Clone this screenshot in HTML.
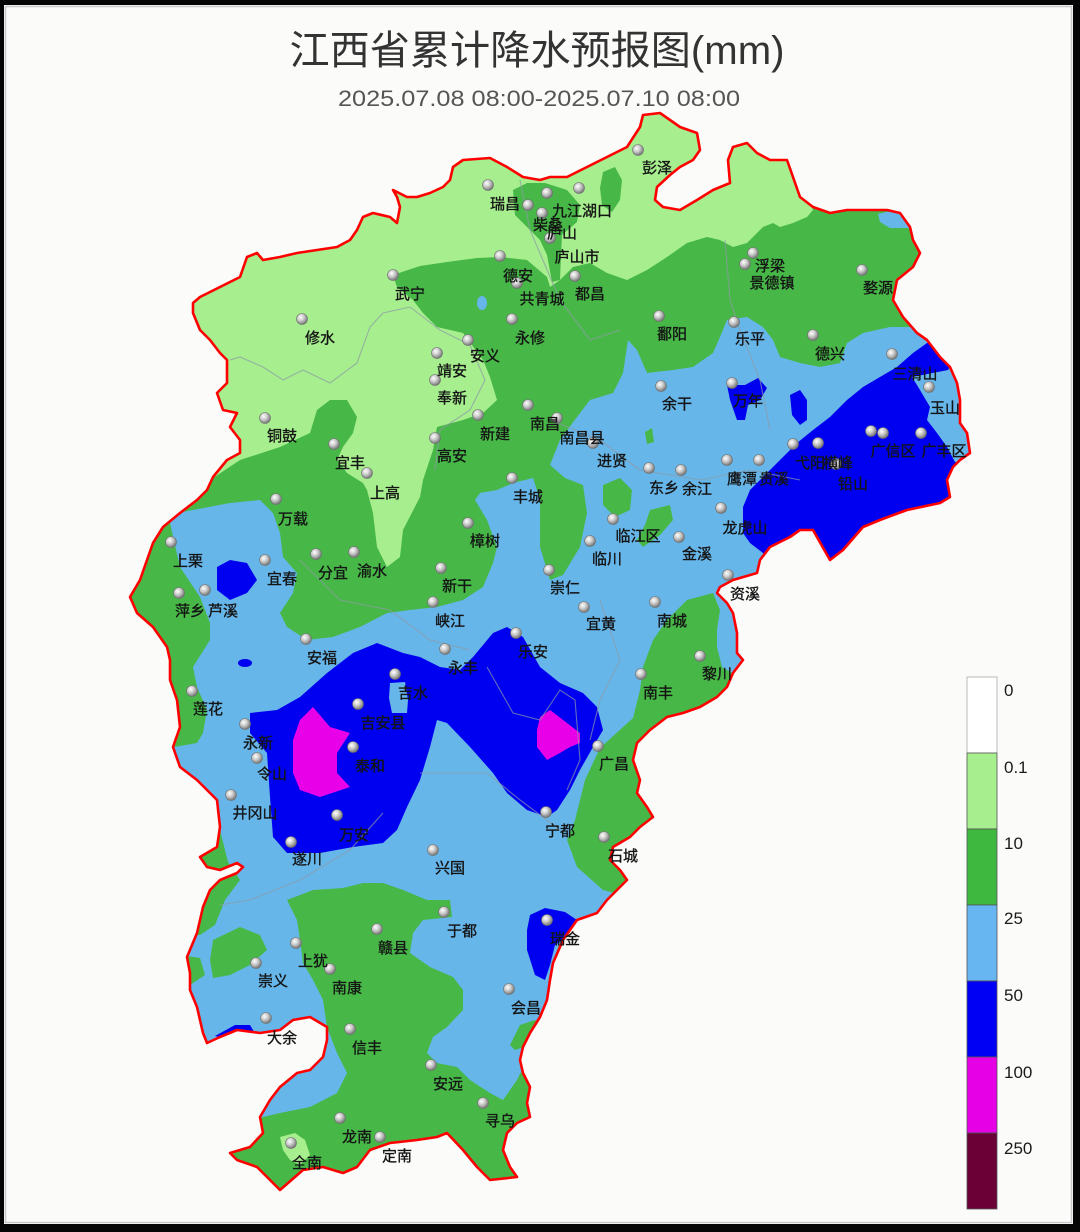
<!DOCTYPE html>
<html><head><meta charset="utf-8"><style>
html,body{margin:0;padding:0;background:#000;}
svg{display:block;}
.lb{font-family:"Liberation Sans","Noto Sans CJK SC",sans-serif;font-size:15px;fill:#141414;stroke:#141414;stroke-width:0.35;text-anchor:middle;}
</style></head><body>
<svg width="1080" height="1232" viewBox="0 0 1080 1232" xmlns="http://www.w3.org/2000/svg">
<defs>
<clipPath id="prov"><polygon id="provp" points="643,115 660,113 680,127 697,133 700,150 693,160 680,167 670,175 657,187 655,200 663,207 680,210 697,200 713,190 730,183 728,160 733,147 747,143 757,153 770,160 787,160 793,177 800,197 813,207 830,213 847,210 867,210 887,210 900,213 910,227 913,240 920,253 913,267 897,280 893,300 903,317 917,333 927,340 940,357 950,367 957,383 960,400 960,423 967,433 970,453 960,460 953,467 947,480 950,497 940,503 907,510 880,520 863,527 843,550 830,560 813,530 800,530 790,537 770,547 760,560 757,573 733,580 720,587 717,593 727,603 733,613 737,633 737,653 743,660 733,673 727,687 717,697 700,707 683,713 667,717 650,730 637,743 633,760 640,780 637,793 647,807 653,817 640,827 630,837 613,847 610,860 620,870 627,880 620,887 607,900 597,913 577,920 563,940 553,963 550,980 547,1000 540,1017 530,1033 523,1047 520,1060 523,1073 530,1087 527,1103 530,1117 517,1123 507,1133 503,1150 510,1167 517,1177 490,1180 477,1167 463,1150 447,1133 437,1137 417,1140 390,1143 370,1150 357,1167 343,1173 323,1167 303,1170 280,1190 270,1180 257,1167 237,1160 230,1153 250,1147 263,1133 260,1117 270,1100 280,1087 297,1073 310,1070 323,1057 327,1040 327,1027 310,1017 293,1020 280,1030 260,1033 237,1030 220,1037 207,1043 203,1033 197,1007 190,990 190,973 187,957 197,933 203,907 210,890 220,880 237,873 243,867 237,863 220,870 207,867 200,857 217,847 220,827 217,800 207,790 197,780 180,767 173,747 180,727 177,700 170,680 170,660 167,647 153,627 137,613 130,597 140,580 147,560 153,543 163,527 180,513 197,500 207,490 213,477 227,460 240,453 240,440 230,427 237,413 223,410 217,393 227,383 227,360 220,353 210,340 200,330 193,313 193,303 200,297 220,287 240,277 247,257 257,253 263,260 280,257 297,253 317,250 337,247 350,240 357,230 363,217 373,213 390,217 397,223 400,207 397,197 393,190 407,197 417,197 430,193 443,187 450,180 453,167 463,160 490,158 507,167 523,177 540,180 550,177 567,177 587,167 607,157 627,147 640,127"/></clipPath>
<radialGradient id="ball" cx="0.38" cy="0.35" r="0.7">
<stop offset="0" stop-color="#ffffff"/><stop offset="0.45" stop-color="#c9c9c9"/><stop offset="1" stop-color="#6a6a6a"/>
</radialGradient>
</defs>

<rect x="0" y="0" width="1080" height="1232" fill="#050505"/>
<rect x="4" y="5" width="1069" height="1219" fill="#fbfbfa"/>
<rect x="5.5" y="6.5" width="1066" height="1216" fill="none" stroke="#c8c8c8" stroke-width="1.5"/>

<text x="537" y="64" font-family="Liberation Sans,Noto Sans CJK SC,sans-serif" font-size="40" fill="#333" text-anchor="middle" textLength="495" lengthAdjust="spacingAndGlyphs">江西省累计降水预报图(mm)</text>
<text x="539" y="106" font-family="Liberation Sans,Noto Sans CJK SC,sans-serif" font-size="22" fill="#555" text-anchor="middle" textLength="402" lengthAdjust="spacingAndGlyphs">2025.07.08 08:00-2025.07.10 08:00</text>

<g clip-path="url(#prov)">
<rect x="100" y="100" width="900" height="1100" fill="#67b6ea"/>
<polygon fill="#47b847" points="100,760 197,743 203,733 207,710 197,687 193,667 210,640 210,623 200,597 180,567 170,523 177,513 230,503 260,500 273,513 280,533 283,557 297,573 293,593 280,613 287,627 307,640 333,637 360,627 387,613 410,610 437,607 463,600 483,587 493,563 497,547 487,520 475,500 480,493 497,490 513,483 533,478 540,500 540,547 550,580 563,575 580,547 587,513 583,485 565,478 550,465 560,440 577,417 590,400 613,393 623,373 628,340 637,350 647,373 673,370 693,367 713,353 720,337 727,320 747,317 763,327 773,340 780,357 800,363 820,367 840,363 847,343 863,333 890,327 913,327 940,320 1000,300 1000,100 100,100"/>
<polygon fill="#a6ee8e" points="100,480 207,482 240,460 280,447 310,433 317,410 330,400 347,400 357,417 353,433 343,447 337,460 347,473 363,483 367,490 373,513 377,547 387,567 400,557 403,530 420,497 423,480 433,450 437,427 463,420 483,413 497,400 490,377 483,360 463,333 437,327 423,313 413,300 397,287 393,275 420,266 447,262 477,258 500,257 527,260 547,277 550,287 560,280 573,267 590,263 607,273 627,280 647,270 667,257 687,243 707,237 720,240 733,247 747,243 757,233 763,227 773,223 780,227 793,223 807,217 813,210 805,190 820,100 100,100"/>
<polygon fill="#47b847" points="513,190 527,183 545,183 567,190 580,205 577,222 562,235 561,255 560,280 552,282 547,255 540,240 528,228 515,215"/>
<polygon fill="#47b847" points="603,172 615,167 622,180 620,200 612,212 602,205 600,188"/>
<polygon fill="#47b847" points="764,245 770,235 778,240 776,256 768,258"/>
<polygon fill="#67b6ea" points="878,214 895,210 910,215 912,228 890,228 880,222"/>
<ellipse cx="482" cy="303" rx="5" ry="7" fill="#67b6ea"/>
<polygon fill="#47b847" points="603,485 620,478 632,490 630,510 615,517 603,505"/>
<polygon fill="#47b847" points="650,510 670,505 673,520 660,535 643,547 637,540 645,525"/>
<polygon fill="#47b847" points="645,432 652,428 654,442 647,444"/>
<polygon fill="#47b847" points="687,600 713,593 720,610 717,630 717,647 722,667 760,690 690,750 670,800 665,860 640,900 603,890 577,867 567,840 575,820 585,780 600,748 622,728 633,718 640,690 643,667 653,640 667,620"/>
<polygon fill="#47b847" points="287,900 313,890 343,888 363,883 383,883 403,890 427,900 450,900 452,917 423,920 413,933 410,953 430,967 453,977 463,990 463,1010 447,1027 433,1037 427,1053 437,1063 457,1067 470,1080 490,1093 503,1100 517,1080 523,1068 560,1080 560,1220 200,1220 220,1130 263,1117 280,1113 310,1107 337,1093 347,1073 337,1053 327,1027 323,1000 313,980 303,963 300,940 297,920"/>
<polygon fill="#47b847" points="170,775 200,790 215,805 220,830 228,862 240,880 225,900 215,925 200,935 185,935 180,880 170,820"/>
<polygon fill="#47b847" points="180,955 200,958 205,975 190,985"/>
<polygon fill="#47b847" points="213,940 240,927 260,935 267,950 250,965 230,975 213,978 210,960"/>
<polygon fill="#47b847" points="510,1045 520,1025 535,1020 542,1030 530,1045 515,1050"/>
<polygon fill="#a6ee8e" points="280,1137 295,1133 305,1140 310,1155 300,1165 290,1160 283,1150"/>
<polygon fill="#0000f0" points="927,343 913,353 897,367 880,377 863,387 847,400 830,417 813,430 797,443 780,460 763,477 750,490 743,507 743,533 750,543 763,553 800,620 1000,620 1000,470 955,462 947,447 937,433 927,420 930,407 920,390 912,377 948,370 965,340"/>
<polygon fill="#0000f0" points="727,385 745,385 758,378 767,388 760,400 748,405 745,420 737,420 730,400"/>
<polygon fill="#0000f0" points="790,395 800,390 807,400 807,420 800,425 792,415"/>
<polygon fill="#0000f0" points="250,713 277,710 300,697 327,673 353,653 377,643 403,653 420,657 440,667 460,670 473,657 493,633 507,627 523,637 540,667 560,683 583,693 597,707 603,730 593,747 580,770 570,790 557,810 547,817 527,810 507,793 493,773 470,747 447,723 437,720 430,747 420,780 407,807 397,830 383,843 353,847 320,853 287,853 273,837 270,797 267,753 250,733"/>
<polygon fill="#67b6ea" points="390,683 405,682 408,700 407,713 392,713 389,698"/>
<polygon fill="#0000f0" points="217,567 230,560 247,563 257,580 247,593 230,600 217,590"/>
<ellipse cx="245" cy="663" rx="7" ry="4" fill="#0000f0"/>
<polygon fill="#0000f0" points="530,915 545,908 565,912 577,920 570,935 555,945 550,965 545,980 535,975 527,950 527,930"/>
<polygon fill="#0000f0" points="215,1036 235,1025 250,1025 256,1035 230,1040"/>
<polygon fill="#e800e8" points="300,720 313,707 330,727 350,733 337,753 337,773 350,787 320,797 300,790 293,773 293,740"/>
<polygon fill="#e800e8" points="540,717 550,710 567,723 580,733 580,743 570,747 560,753 547,760 537,747 537,730"/>
<g fill="none" stroke="#8d9aa6" stroke-width="1.1" opacity="0.7">
<polyline points="230,360 240,357 263,367 283,380 303,370 330,383 357,363 370,327 383,313 410,307"/>
<polyline points="410,307 440,330 470,345 485,380 470,410 440,430 435,470"/>
<polyline points="550,420 600,440 640,470 700,480 750,470 800,480"/>
<polyline points="725,240 730,300 740,330 760,380 770,430"/>
<polyline points="487,667 513,713 540,720 560,690 575,700 580,760 567,790"/>
<polyline points="420,773 487,773 520,800 560,830"/>
<polyline points="383,813 350,850 300,880 250,900 220,905"/>
<polyline points="300,560 340,600 390,610 430,640 470,650"/>
<polyline points="520,180 530,230 560,300 590,340 620,330"/>
<polyline points="600,600 620,660 600,700 590,740"/>
</g>
</g>
<use href="#provp" fill="none" stroke="#ff0000" stroke-width="2.6" stroke-linejoin="round"/>

<g fill="url(#ball)" stroke="#707070" stroke-width="0.6">
<circle cx="638" cy="150" r="5.5"/><circle cx="488" cy="185" r="5.5"/><circle cx="547" cy="193" r="5.5"/><circle cx="579" cy="188" r="5.5"/><circle cx="528" cy="205" r="5.5"/><circle cx="542" cy="213" r="5.5"/><circle cx="550" cy="238" r="5.5"/>
<circle cx="500" cy="256" r="5.5"/><circle cx="517" cy="283" r="5.5"/><circle cx="575" cy="276" r="5.5"/><circle cx="512" cy="319" r="5.5"/><circle cx="393" cy="275" r="5.5"/><circle cx="302" cy="319" r="5.5"/>
<circle cx="437" cy="353" r="5.5"/><circle cx="468" cy="340" r="5.5"/><circle cx="435" cy="380" r="5.5"/><circle cx="265" cy="418" r="5.5"/><circle cx="334" cy="444" r="5.5"/><circle cx="367" cy="473" r="5.5"/>
<circle cx="435" cy="438" r="5.5"/><circle cx="478" cy="415" r="5.5"/><circle cx="528" cy="405" r="5.5"/><circle cx="557" cy="418" r="5.5"/><circle cx="593" cy="443" r="5.5"/>
<circle cx="659" cy="316" r="5.5"/><circle cx="734" cy="322" r="5.5"/><circle cx="753" cy="253" r="5.5"/><circle cx="745" cy="264" r="5.5"/><circle cx="862" cy="270" r="5.5"/><circle cx="813" cy="335" r="5.5"/>
<circle cx="892" cy="354" r="5.5"/><circle cx="929" cy="387" r="5.5"/><circle cx="661" cy="386" r="5.5"/><circle cx="732" cy="383" r="5.5"/>
<circle cx="871" cy="431" r="5.5"/><circle cx="883" cy="433" r="5.5"/><circle cx="921" cy="433" r="5.5"/><circle cx="793" cy="444" r="5.5"/><circle cx="818" cy="443" r="5.5"/><circle cx="836" cy="464" r="5.5"/>
<circle cx="727" cy="460" r="5.5"/><circle cx="759" cy="460" r="5.5"/><circle cx="649" cy="468" r="5.5"/><circle cx="681" cy="470" r="5.5"/><circle cx="721" cy="508" r="5.5"/><circle cx="613" cy="519" r="5.5"/>
<circle cx="590" cy="541" r="5.5"/><circle cx="679" cy="537" r="5.5"/><circle cx="728" cy="575" r="5.5"/><circle cx="549" cy="570" r="5.5"/><circle cx="584" cy="607" r="5.5"/><circle cx="655" cy="602" r="5.5"/>
<circle cx="700" cy="656" r="5.5"/><circle cx="641" cy="674" r="5.5"/><circle cx="512" cy="478" r="5.5"/><circle cx="468" cy="523" r="5.5"/><circle cx="441" cy="568" r="5.5"/><circle cx="433" cy="602" r="5.5"/>
<circle cx="276" cy="499" r="5.5"/><circle cx="171" cy="542" r="5.5"/><circle cx="265" cy="560" r="5.5"/><circle cx="316" cy="554" r="5.5"/><circle cx="354" cy="552" r="5.5"/><circle cx="179" cy="593" r="5.5"/><circle cx="205" cy="590" r="5.5"/>
<circle cx="306" cy="639" r="5.5"/><circle cx="516" cy="633" r="5.5"/><circle cx="445" cy="649" r="5.5"/><circle cx="395" cy="674" r="5.5"/><circle cx="358" cy="704" r="5.5"/><circle cx="353" cy="747" r="5.5"/>
<circle cx="245" cy="724" r="5.5"/><circle cx="257" cy="758" r="5.5"/><circle cx="192" cy="691" r="5.5"/><circle cx="231" cy="795" r="5.5"/><circle cx="291" cy="842" r="5.5"/><circle cx="337" cy="815" r="5.5"/>
<circle cx="598" cy="746" r="5.5"/><circle cx="546" cy="812" r="5.5"/><circle cx="433" cy="850" r="5.5"/><circle cx="604" cy="837" r="5.5"/>
<circle cx="444" cy="912" r="5.5"/><circle cx="547" cy="920" r="5.5"/><circle cx="377" cy="929" r="5.5"/><circle cx="296" cy="943" r="5.5"/><circle cx="330" cy="969" r="5.5"/><circle cx="256" cy="963" r="5.5"/>
<circle cx="509" cy="989" r="5.5"/><circle cx="266" cy="1018" r="5.5"/><circle cx="350" cy="1029" r="5.5"/><circle cx="431" cy="1065" r="5.5"/><circle cx="483" cy="1103" r="5.5"/><circle cx="340" cy="1118" r="5.5"/>
<circle cx="380" cy="1137" r="5.5"/><circle cx="291" cy="1143" r="5.5"/>
</g>

<g class="lb">
<text x="657" y="173">彭泽</text><text x="505" y="209">瑞昌</text><text x="582" y="216">九江湖口</text><text x="548" y="230">柴桑</text><text x="562" y="238">庐山</text><text x="577" y="262">庐山市</text>
<text x="518" y="281">德安</text><text x="542" y="304">共青城</text><text x="590" y="299">都昌</text><text x="530" y="343">永修</text><text x="410" y="299">武宁</text><text x="320" y="343">修水</text>
<text x="452" y="376">靖安</text><text x="485" y="361">安义</text><text x="452" y="403">奉新</text><text x="282" y="441">铜鼓</text><text x="350" y="468">宜丰</text><text x="385" y="498">上高</text>
<text x="452" y="461">高安</text><text x="495" y="439">新建</text><text x="545" y="429">南昌</text><text x="582" y="443">南昌县</text><text x="612" y="466">进贤</text>
<text x="672" y="339">鄱阳</text><text x="750" y="344">乐平</text><text x="770" y="271">浮梁</text><text x="772" y="288">景德镇</text><text x="878" y="293">婺源</text><text x="830" y="359">德兴</text>
<text x="915" y="379">三清山</text><text x="945" y="413">玉山</text><text x="677" y="409">余干</text><text x="748" y="406">万年</text>
<text x="893" y="456">广信区</text><text x="944" y="456">广丰区</text><text x="810" y="468">弋阳</text><text x="838" y="468">横峰</text><text x="853" y="489">铅山</text>
<text x="742" y="484">鹰潭</text><text x="774" y="484">贵溪</text><text x="664" y="493">东乡</text><text x="697" y="494">余江</text><text x="745" y="533">龙虎山</text><text x="638" y="541">临江区</text>
<text x="607" y="564">临川</text><text x="697" y="559">金溪</text><text x="745" y="599">资溪</text><text x="565" y="593">崇仁</text><text x="601" y="629">宜黄</text><text x="672" y="626">南城</text>
<text x="717" y="679">黎川</text><text x="658" y="698">南丰</text><text x="528" y="502">丰城</text><text x="485" y="546">樟树</text><text x="457" y="591">新干</text><text x="450" y="626">峡江</text>
<text x="293" y="524">万载</text><text x="188" y="566">上栗</text><text x="282" y="584">宜春</text><text x="333" y="578">分宜</text><text x="372" y="576">渝水</text><text x="190" y="616">萍乡</text><text x="223" y="616">芦溪</text>
<text x="322" y="663">安福</text><text x="533" y="657">乐安</text><text x="463" y="673">永丰</text><text x="413" y="698">吉水</text><text x="383" y="728">吉安县</text><text x="370" y="771">泰和</text>
<text x="258" y="748">永新</text><text x="272" y="779">令山</text><text x="208" y="714">莲花</text><text x="255" y="818">井冈山</text><text x="307" y="864">遂川</text><text x="354" y="840">万安</text>
<text x="614" y="769">广昌</text><text x="560" y="836">宁都</text><text x="450" y="873">兴国</text><text x="623" y="861">石城</text>
<text x="462" y="936">于都</text><text x="565" y="944">瑞金</text><text x="393" y="953">赣县</text><text x="313" y="966">上犹</text><text x="347" y="993">南康</text><text x="273" y="986">崇义</text>
<text x="526" y="1013">会昌</text><text x="282" y="1043">大余</text><text x="367" y="1053">信丰</text><text x="448" y="1089">安远</text><text x="500" y="1126">寻乌</text><text x="357" y="1142">龙南</text>
<text x="397" y="1161">定南</text><text x="307" y="1168">全南</text>
</g>

<g stroke="#555" stroke-width="0.8">
<rect x="967" y="677" width="30" height="76" fill="#ffffff" stroke="#aaa"/>
<rect x="967" y="753" width="30" height="76" fill="#a6ee8e"/>
<rect x="967" y="829" width="30" height="76" fill="#3fb83f"/>
<rect x="967" y="905" width="30" height="76" fill="#67b6f2"/>
<rect x="967" y="981" width="30" height="76" fill="#0000f5"/>
<rect x="967" y="1057" width="30" height="76" fill="#e600e6"/>
<rect x="967" y="1133" width="30" height="76" fill="#6a0036"/>
</g>
<g font-family="Liberation Sans,sans-serif" font-size="17" fill="#1a1a1a">
<text x="1004" y="696">0</text>
<text x="1004" y="773">0.1</text>
<text x="1004" y="849">10</text>
<text x="1004" y="924">25</text>
<text x="1004" y="1001">50</text>
<text x="1004" y="1078">100</text>
<text x="1004" y="1154">250</text>
</g>
</svg>
</body></html>
